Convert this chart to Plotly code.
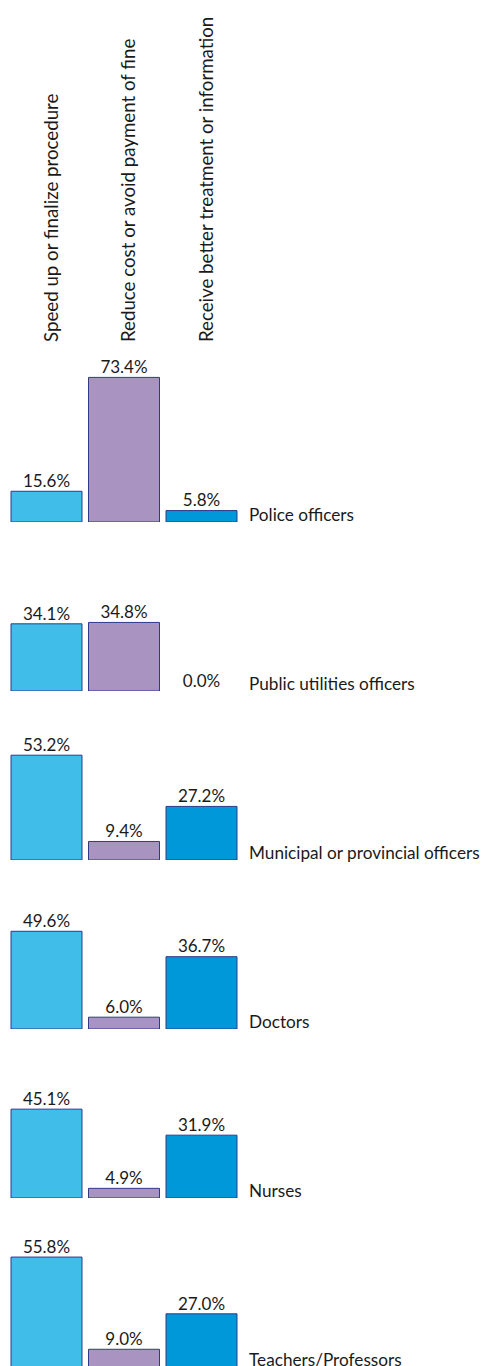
import plotly.graph_objects as go

# data
reasons = ["Speed up or finalize procedure",
           "Reduce cost or avoid payment of fine",
           "Receive better treatment or information"]
officials = ["Police officers", "Public utilities officers", "Municipal or provincial officers",
             "Doctors", "Nurses", "Teachers/Professors"]
values = [
    [15.6, 73.4, 5.8],
    [34.1, 34.8, 0.0],
    [53.2, 9.4, 27.2],
    [49.6, 6.0, 36.7],
    [45.1, 4.9, 31.9],
    [55.8, 9.0, 27.0],
]
bar_colors = ["#40bde8", "#a893c1", "#0098d8"]

W, H = 491, 1366
scale = 1.97          # px per percentage point
# panel baselines in figure pixels (page is offset by the 8px body margin)
baselines = [514, 683, 852, 1021, 1190, 1359]
panel_h = 165
x0 = -38.5 / 77.5

fig = go.Figure()
FONT = "Lato"

for i, (name, vals) in enumerate(zip(officials, values)):
    n = "" if i == 0 else str(i + 1)
    fig.add_trace(go.Bar(
        x=reasons, y=vals, xaxis="x" + n, yaxis="y" + n,
        marker=dict(color=bar_colors,
                    line=dict(color="#2e3a8c", width=[1 if v > 0 else 0 for v in vals])),
        width=0.916, showlegend=False, hoverinfo="skip",
    ))
    fig.add_trace(go.Scatter(
        x=reasons, y=vals, xaxis="x" + n, yaxis="y" + n,
        mode="text", text=[f"{v:.1f}%" for v in vals], textposition="top center",
        textfont=dict(family=FONT, size=17, color="#1a1a1a"),
        showlegend=False, hoverinfo="skip",
    ))

    b = baselines[i]
    dom = [1 - b / H, 1 - (b - panel_h) / H]

    xa = dict(domain=[0, 1], range=[x0, x0 + W / 77.5], anchor="y" + n,
              showgrid=False, zeroline=False, showline=False,
              categoryorder="array", categoryarray=reasons)
    if i == 0:
        xa.update(side="top", tickangle=-90, ticks="", ticklabelshift=5,
                  ticklabelstandoff=14,
                  tickfont=dict(family=FONT, size=18.7, color="#1a1a1a"))
    else:
        xa.update(showticklabels=False, matches="x")
    ya = dict(domain=dom, range=[0, panel_h / scale], anchor="x" + n, visible=False)
    fig.update_layout(**{"xaxis" + n: xa, "yaxis" + n: ya})

    fig.add_annotation(
        x=2.59, y=0, xref="x" + n, yref="y" + n, text=name, showarrow=False,
        xanchor="left", yanchor="bottom", yshift=-5,
        font=dict(family=FONT, size=17.2, color="#1a1a1a"),
    )

fig.update_layout(
    width=W, height=H,
    margin=dict(l=0, r=0, t=0, b=0),
    plot_bgcolor="white", paper_bgcolor="white",
)

fig.write_html("out.html")
